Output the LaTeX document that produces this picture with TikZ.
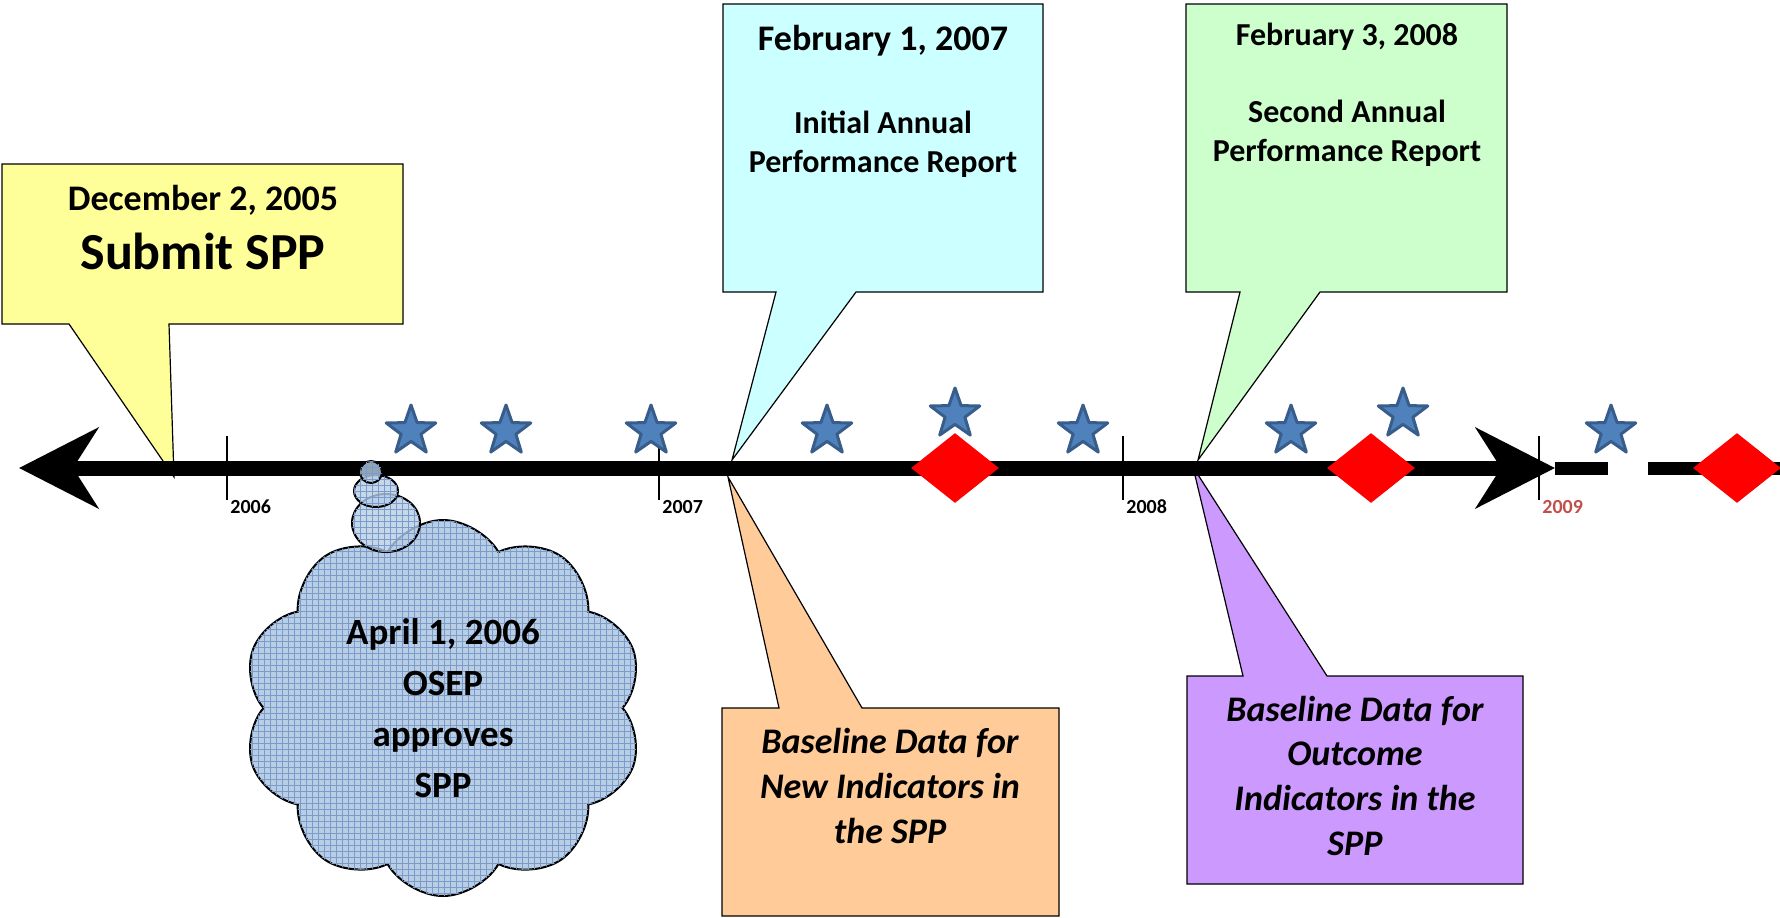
\documentclass[tikz,border=0pt]{standalone}
\usepackage{fontspec}
\setmainfont{Carlito}
\usetikzlibrary{arrows.meta,shapes.geometric,shapes.symbols,patterns,positioning}

\definecolor{boxyellow}{HTML}{FFFF99}
\definecolor{boxcyan}{HTML}{CCFFFF}
\definecolor{boxgreen}{HTML}{CCFFCC}
\definecolor{boxorange}{HTML}{FFCC99}
\definecolor{boxpurple}{HTML}{CC99FF}
\definecolor{starblue}{HTML}{4F81BD}
\definecolor{stardark}{HTML}{385D8A}
\definecolor{cloudblue}{HTML}{B9CDE5}
\definecolor{gridblue}{HTML}{7A9CCB}
\definecolor{yearred}{HTML}{C0504D}

\tikzset{
  balloon/.style={draw=black,line width=0.6pt,line join=miter},
  datetext/.style={anchor=base,inner sep=0pt,font=\bfseries\fontsize{18}{22}\selectfont},
  bodytext/.style={anchor=base,inner sep=0pt,align=center,font=\bfseries\fontsize{16}{19.5}\selectfont},
  notetext/.style={anchor=base,inner sep=0pt,align=center,font=\bfseries\itshape\fontsize{18}{22.3}\selectfont},
  starmark/.style={star,star points=5,star point ratio=2.5,minimum size=26pt,inner sep=0pt,
    fill=starblue,draw=stardark,line width=1.5pt,line join=round},
  redmark/.style={diamond,minimum width=44pt,minimum height=35pt,inner sep=0pt,fill=red},
  yeartick/.style={line width=1pt},
  yearlabel/.style={anchor=base west,inner sep=0pt,font=\bfseries\fontsize{10}{12}\selectfont},
  bubble/.style={draw=black,line width=1pt,fill=cloudblue,postaction={pattern=grid,pattern color=gridblue}},
  timeline/.style={line width=7.5pt,
    {Stealth[length=39.5pt,width=40pt,inset=12.5pt]}-{Stealth[length=39.5pt,width=40pt,inset=12.5pt]}},
  futureline/.style={line width=6.5pt,dash pattern=on 26.5pt off 20pt on 80pt}
}

\begin{document}
\begin{tikzpicture}[x=0.5pt,y=-0.5pt]
\useasboundingbox (0,0) rectangle (1780,917);

\coordinate (axisW) at (19,468);
\coordinate (axisE) at (1555,468);
\coordinate (axisEnd) at (1780,468);

\coordinate (tipSubmit) at (174,477);
\coordinate (tipInitial) at (732,460);
\coordinate (tipSecond) at (1198,460);
\coordinate (tipNew) at (728,477);
\coordinate (tipOutcome) at (1193,467);

% speech balloons
\draw[balloon,fill=boxyellow] (2,164) -- (403,164) -- (403,324) -- (169,324) -- (tipSubmit) -- (69,324) -- (2,324) -- cycle;
\draw[balloon,fill=boxcyan] (723,4) -- (1043,4) -- (1043,292) -- (856,292) -- (tipInitial) -- (776,292) -- (723,292) -- cycle;
\draw[balloon,fill=boxgreen] (1186,4) -- (1507,4) -- (1507,292) -- (1320,292) -- (tipSecond) -- (1240,292) -- (1186,292) -- cycle;
\draw[balloon,fill=boxorange] (722,708) -- (779,708) -- (tipNew) -- (862,708) -- (1059,708) -- (1059,916) -- (722,916) -- cycle;
\draw[balloon,fill=boxpurple] (1187,676) -- (1243,676) -- (tipOutcome) -- (1327,676) -- (1523,676) -- (1523,884) -- (1187,884) -- cycle;

\node[datetext] (dateSubmit) at (203,210) {December 2, 2005};
\node[datetext,font=\bfseries\fontsize{26}{30}\selectfont] (submit) at (203,269) {Submit SPP};
\node[datetext] (dateInitial) at (883,50) {February 1, 2007};
\node[bodytext] (initial) at (883,172) {Initial Annual\\Performance Report};
\node[datetext,font=\bfseries\fontsize{16}{19.5}\selectfont] (dateSecond) at (1347,45) {February 3, 2008};
\node[bodytext] (second) at (1347,161) {Second Annual\\Performance Report};
\node[notetext] (newInd) at (890,843) {Baseline Data for\\New Indicators in\\the SPP};
\node[notetext] (outcomeInd) at (1355,855) {Baseline Data for\\Outcome\\Indicators in the\\SPP};

% time line
\draw[timeline] (axisW) -- (axisE);
\draw[futureline] (axisE) -- (axisEnd);

\foreach \yx/\yr/\yc in {227/2006/black,659/2007/black,1123/2008/black,1539/2009/yearred}{
  \draw[yeartick] (\yx,436) -- (\yx,500);
  \node[yearlabel,text=\yc] (year\yr) at (\yx+3,513) {\yr};
}

\foreach \dx [count=\i] in {955,1371,1737}
  \node[redmark] (red\i) at (\dx,468) {};

\foreach \sx/\sy [count=\i] in {411/431,506/431,651/431,827/431,955/414,1083/431,1291/431,1403/414,1611/431}
  \node[starmark] (star\i) at (\sx,\sy) {};

% thought cloud
\node[bubble,cloud,cloud puffs=10,cloud puff arc=120,cloud ignores aspect,minimum width=200pt,minimum height=188pt,
  align=center,font=\bfseries\fontsize{18.5}{25.5}\selectfont] (approve) at (443,708) {April 1, 2006\\OSEP\\approves\\SPP};
\draw[bubble,fill opacity=0.8] (386,523) ellipse (34 and 29);
\draw[bubble,fill opacity=0.8] (376,491) ellipse (22 and 16);
\draw[bubble,fill opacity=0.8] (371,472) circle (11);

\end{tikzpicture}
\end{document}
